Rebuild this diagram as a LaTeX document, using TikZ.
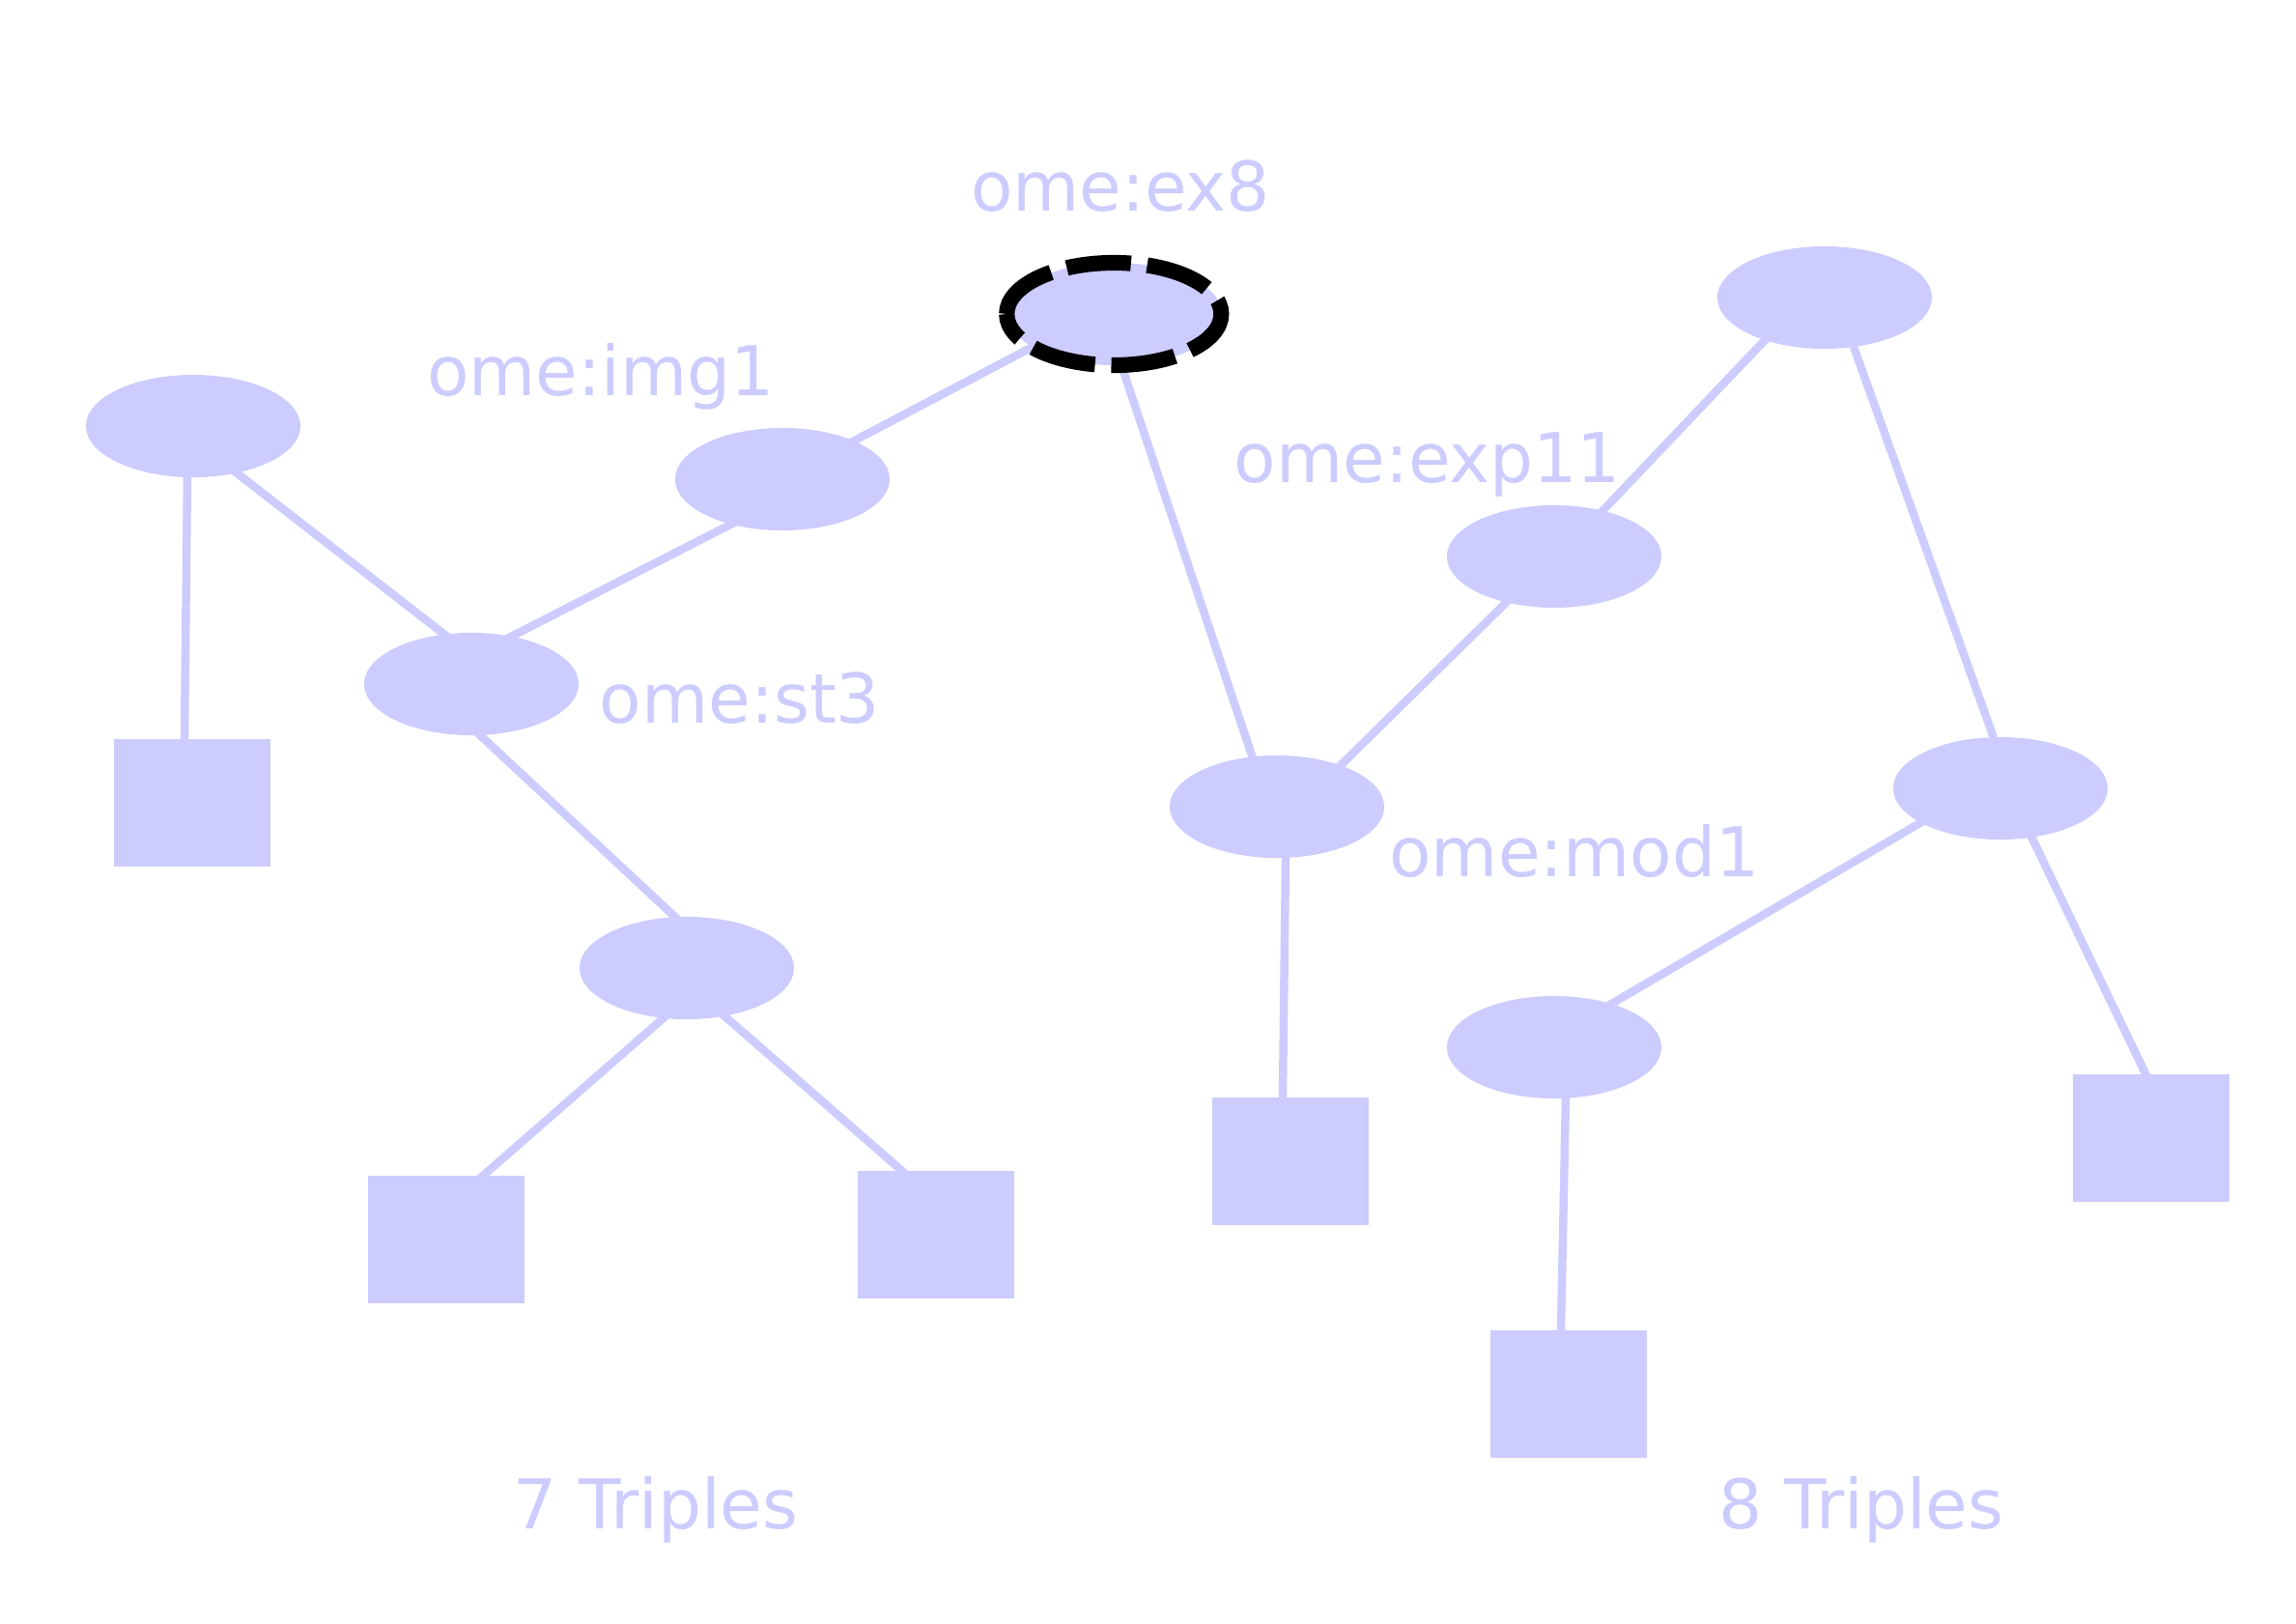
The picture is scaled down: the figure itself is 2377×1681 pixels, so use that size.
\documentclass[tikz,border=0pt]{standalone}
\usepackage{fontspec}
\setmainfont{DejaVu Sans}
\usetikzlibrary{shapes.geometric}
\definecolor{lav}{HTML}{CCCCFF}
\pgfdeclarelayer{bg}
\pgfsetlayers{bg,main}
\begin{document}
\begin{tikzpicture}[x=0.01cm,y=-0.01cm,
  ell/.style={ellipse,fill=lav,inner sep=0pt,minimum width=2.22cm,minimum height=1.06cm},
  box/.style={rectangle,fill=lav,inner sep=0pt,minimum width=1.62cm,minimum height=1.32cm},
  lbl/.style={text=lav,font=\fontsize{20.2pt}{24pt}\selectfont,inner sep=0pt},
  ring/.style={draw=black,line width=4.6pt,dash pattern=on 19pt off 4.8pt},
  edge/.style={draw=lav,line width=2.4pt,shorten <=-0.06cm,shorten >=-0.06cm}]
\useasboundingbox (0,0) rectangle (2377,1681);
\node[ell] (A) at (200,441) {};
\node[ell] (img1) at (810,496) {};
\node[ell] (ex8) at (1154,325) {};
\draw[ring] (ex8.west) arc[start angle=180,end angle=-180,x radius=1.11cm,y radius=0.53cm];
\node[ell] (st3) at (488,708) {};
\node[box] (R1) at (199,831) {};
\node[ell] (E5) at (711,1002) {};
\node[box] (R2) at (462,1283) {};
\node[box] (R3) at (969,1278) {};
\node[ell] (mod1) at (1322,835) {};
\node[box] (R4) at (1336,1202) {};
\node[ell] (exp11) at (1609,576) {};
\node[ell] (TR) at (1889,308) {};
\node[ell] (RR) at (2071,816) {};
\node[ell] (E14) at (1609,1084) {};
\node[box] (R5) at (1624,1443) {};
\node[box] (R6) at (2227,1178) {};
\node[lbl] (lex8) at (1160,193) {ome:ex8};
\node[lbl] (limg1) at (622,390) {ome:img1};
\node[lbl] (lst3) at (766,723) {ome:st3};
\node[lbl] (lexp11) at (1478,481) {ome:exp11};
\node[lbl] (lmod1) at (1630,881) {ome:mod1};
\node[lbl] (t7) at (679,1563) {7 Triples};
\node[lbl] (t8) at (1927,1563) {8 Triples};
\begin{pgfonlayer}{bg}
\path[edge] ([shift={(-6,47)}]A.center) -- ([shift={(-8,-65)}]R1.center);
\path[edge] ([shift={(43,47)}]A.center) -- ([shift={(-21,-46)}]st3.center);
\path[edge] ([shift={(35,-46)}]st3.center) -- ([shift={(-44,42)}]img1.center);
\path[edge] ([shift={(69,-37)}]img1.center) -- ([shift={(-85,34)}]ex8.center);
\path[edge] ([shift={(9,53)}]st3.center) -- ([shift={(-9,-50)}]E5.center);
\path[edge] ([shift={(-21,49)}]E5.center) -- ([shift={(38,-66)}]R2.center);
\path[edge] ([shift={(36,47)}]E5.center) -- ([shift={(-34,-65)}]R3.center);
\path[edge] ([shift={(9,59)}]ex8.center) -- ([shift={(-24,-47)}]mod1.center);
\path[edge] ([shift={(9,53)}]mod1.center) -- ([shift={(-8,-67)}]R4.center);
\path[edge] ([shift={(62,-39)}]mod1.center) -- ([shift={(-48,46)}]exp11.center);
\path[edge] ([shift={(48,-45)}]exp11.center) -- ([shift={(-59,41)}]TR.center);
\path[edge] ([shift={(29,48)}]TR.center) -- ([shift={(-9,-58)}]RR.center);
\path[edge] ([shift={(-80,34)}]RR.center) -- ([shift={(56,-43)}]E14.center);
\path[edge] ([shift={(32,50)}]RR.center) -- ([shift={(-6,-67)}]R6.center);
\path[edge] ([shift={(12,52)}]E14.center) -- ([shift={(-8,-66)}]R5.center);
\end{pgfonlayer}
\end{tikzpicture}
\end{document}
